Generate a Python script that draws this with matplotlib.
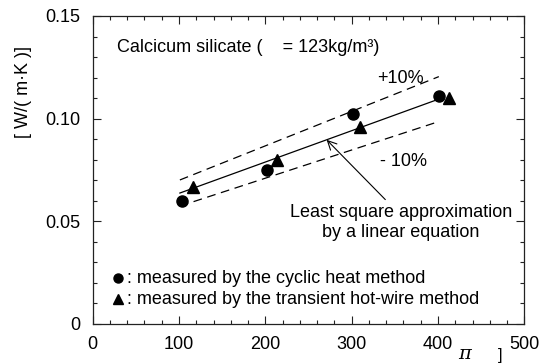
import matplotlib
matplotlib.use("Agg")
import matplotlib.pyplot as plt
from matplotlib.ticker import MultipleLocator, FixedLocator, FixedFormatter
import numpy as np

plt.rcParams['font.family'] = ['Liberation Sans', 'DejaVu Sans']

# ---- data ----
cyclic_x = [103, 202, 301, 401]
cyclic_y = [0.0596, 0.0747, 0.1022, 0.1112]
hotwire_x = [116, 213, 310, 413]
hotwire_y = [0.0664, 0.0799, 0.0959, 0.1100]
fit_x = [101, 401]
fit_y = [0.0637, 0.1095]
band = 0.10
xticks = [0, 100, 200, 300, 400, 500]
xtick_labels = ['0', '100', '200', '300', '400', '500']
yticks = [0, 0.05, 0.10, 0.15]
ytick_labels = ['0', '0.05', '0.10', '0.15']

W, H = 542, 364
fig = plt.figure(figsize=(W / 100, H / 100), dpi=100)
left, right, bottom, top = 92.7, 524.3, 323.7, 16.0
ax = fig.add_axes([left / W, 1 - bottom / H, (right - left) / W, (bottom - top) / H])

ax.set_xlim(0, 500)
ax.set_ylim(0, 0.15)

fx = np.array(fit_x, dtype=float)
fy = np.array(fit_y, dtype=float)
ax.plot(fx, fy, color='black', lw=0.9)
ax.plot(fx, fy * (1 + band), color='black', lw=0.9, dashes=(7, 4.5))
ax.plot(fx, fy * (1 - band), color='black', lw=0.9, dashes=(7, 4.5))

ax.plot(cyclic_x, cyclic_y, 'o', color='black', ms=8, ls='none')
ax.plot(hotwire_x, hotwire_y, '^', color='black', ms=8, ls='none')

fs = 13
ax.text(28, 0.1324, "Calcicum silicate (    = 123kg/m\u00b3)", fontsize=fs, ha='left', va='baseline')
ax.text(329, 0.1175, "+10%", fontsize=fs, ha='left', va='baseline')
ax.text(333, 0.0767, "- 10%", fontsize=fs, ha='left', va='baseline')
ax.text(357, 0.0522, "Least square approximation", fontsize=fs, ha='center', va='baseline')
ax.text(357, 0.0425, "by a linear equation", fontsize=fs, ha='center', va='baseline')

slope = (fy[1] - fy[0]) / (fx[1] - fx[0])
xa = 271
ax.annotate('', xy=(xa, fy[0] + slope * (xa - fx[0])), xytext=(339, 0.0605),
            arrowprops=dict(arrowstyle='->', lw=0.8, color='black',
                            shrinkA=0, shrinkB=0, mutation_scale=16))

# legend drawn as markers + text
ax.plot([29], [0.0222], 'o', color='black', ms=6.5)
ax.plot([29], [0.0119], '^', color='black', ms=6.5)
ax.text(40, 0.0198, ": measured by the cyclic heat method", fontsize=fs, ha='left', va='baseline')
ax.text(40, 0.0096, ": measured by the transient hot-wire method", fontsize=fs, ha='left', va='baseline')

ax.xaxis.set_major_locator(FixedLocator(xticks))
ax.xaxis.set_major_formatter(FixedFormatter(xtick_labels))
ax.yaxis.set_major_locator(FixedLocator(yticks))
ax.yaxis.set_major_formatter(FixedFormatter(ytick_labels))
ax.xaxis.set_minor_locator(MultipleLocator(20))
ax.yaxis.set_minor_locator(MultipleLocator(0.01))
ax.tick_params(which='both', direction='in', top=True, right=True, width=0.8, color='#222222')
ax.tick_params(which='major', length=5.8, labelsize=fs, pad=9)
ax.tick_params(which='minor', length=2.9)
for s in ax.spines.values():
    s.set_linewidth(0.9)
    s.set_color('#222222')

fig.text(23.5 / W, 1 - 92 / H, "[ W/( m\u00b7K )]", rotation=90, fontsize=fs, ha='center', va='center')
fig.text(465 / W, 1 - 363 / H, "\u03c0", fontsize=14, family='DejaVu Serif', style='italic', ha='center', va='bottom')
fig.text(500 / W, 1 - 363 / H, "]", fontsize=12, ha='center', va='bottom')

fig.savefig("out.png", dpi=100)
